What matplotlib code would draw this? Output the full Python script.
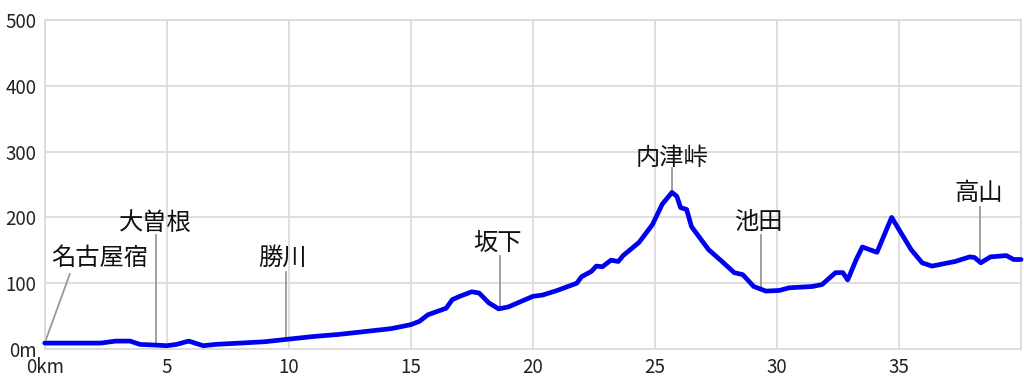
import matplotlib
matplotlib.use("Agg")
import matplotlib.pyplot as plt

plt.rcParams['font.family'] = ['Noto Sans CJK JP', 'DejaVu Sans']

# Elevation profile (distance km, elevation m)
distance_km = [0, 0.5, 1.5, 2.3, 2.9, 3.5, 3.9, 4.5, 5.0, 5.4, 5.9, 6.5, 7.0, 8.0, 9.0,
               10.0, 11.0, 12.0, 13.0, 14.2, 15.0, 15.35, 15.7, 16.45, 16.7, 17.0, 17.5,
               17.8, 18.2, 18.6, 19.0, 19.5, 20.0, 20.4, 21.0, 21.8, 22.0, 22.4, 22.6,
               22.85, 23.2, 23.5, 23.7, 24.35, 24.9, 25.3, 25.7, 25.9, 26.05, 26.3, 26.5,
               27.2, 27.75, 28.25, 28.6, 29.05, 29.55, 30.1, 30.5, 31.45, 31.85, 32.4,
               32.7, 32.9, 33.25, 33.5, 34.1, 34.7, 35.5, 35.95, 36.35, 37.3, 37.9, 38.1,
               38.35, 38.75, 39.4, 39.7, 40.0]
elevation_m = [9, 9, 9, 9, 12, 12, 7, 6, 5, 7, 12, 5, 7, 9, 11,
               15, 19, 22, 26, 31, 37, 42, 52, 62, 75, 80, 87,
               85, 70, 61, 64, 72, 80, 82, 89, 100, 110, 118, 126,
               125, 135, 133, 142, 162, 189, 220, 238, 232, 215, 212, 186,
               151, 133, 116, 113, 95, 88, 89, 93, 95, 98, 116,
               116, 105, 136, 155, 147, 200, 151, 131, 126, 133, 140, 139,
               131, 140, 142, 136, 136]

# Place labels
place_names = ['名古屋宿', '大曽根', '勝川', '坂下', '内津峠', '池田', '高山']
place_km = [0.0, 4.57, 9.87, 18.67, 25.7, 29.36, 38.3]
place_elev = [9, 6, 15, 60, 238, 90, 133]
leader_top_km = [1.03, 4.57, 9.87, 18.67, 25.7, 29.36, 38.3]
leader_top_m = [114, 173, 117, 141, 275, 173, 216]
label_km = [2.25, 4.55, 9.75, 18.55, 25.7, 29.25, 38.25]
label_m = [138, 191, 138, 161, 291, 193, 237]

x_ticks = [0, 5, 10, 15, 20, 25, 30, 35]
x_ticklabels = ['0km', '5', '10', '15', '20', '25', '30', '35']
y_ticks = [0, 100, 200, 300, 400, 500]
y_ticklabels = ['0m', '100', '200', '300', '400', '500']

fig = plt.figure(figsize=(10.24, 3.83), dpi=100)
ax = fig.add_axes([44.7 / 1024, 1 - 349 / 383, (1021 - 44.7) / 1024, (349 - 20) / 383])

ax.set_xlim(0, 40)
ax.set_ylim(0, 500)
ax.set_xticks(x_ticks)
ax.set_xticklabels(x_ticklabels)
ax.set_yticks(y_ticks)
ax.set_yticklabels(y_ticklabels)
ax.set_xticks([40], minor=True)
ax.grid(True, which='both', color='#d9d9d9', linewidth=1.2)
ax.set_axisbelow(True)
ax.tick_params(which='both', length=0, labelsize=13.5, colors='#222222', pad=6)
for s in ax.spines.values():
    s.set_color('#d9d9d9')
    s.set_linewidth(1.2)

for name, pk, pe, tk, tm, lk, lm in zip(place_names, place_km, place_elev,
                                        leader_top_km, leader_top_m, label_km, label_m):
    ax.plot([pk, tk], [pe, tm], color='#999999', linewidth=1.3, zorder=2)
    ax.text(lk, lm, name, ha='center', va='center', fontsize=17.5, color='#111111', zorder=4)

ax.plot(distance_km, elevation_m, color='#0000f0', linewidth=3.4, solid_joinstyle='round',
        solid_capstyle='round', zorder=3, clip_on=False)

fig.savefig('out.png', dpi=100)
